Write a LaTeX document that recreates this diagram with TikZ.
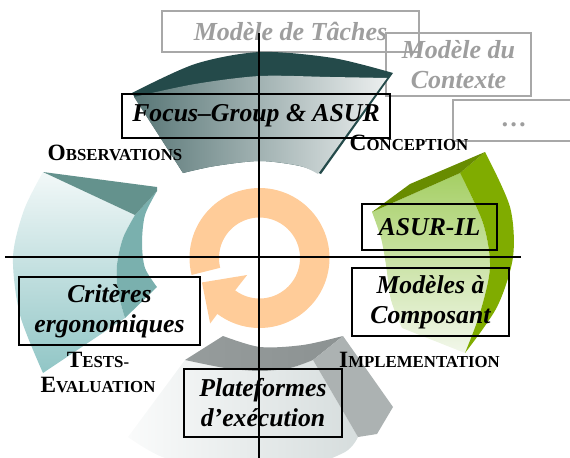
\documentclass[tikz,border=0pt]{standalone}
\usepackage{fontspec}
\setmainfont{Liberation Serif}
\usetikzlibrary{calc}

% palette
\definecolor{tealdark}{RGB}{36,74,74}
\definecolor{tealcap}{RGB}{100,146,141}
\definecolor{tealside}{RGB}{122,176,174}
\definecolor{tealfaceT}{RGB}{242,248,248}
\definecolor{tealfaceB}{RGB}{145,198,198}
\definecolor{slateL}{RGB}{88,118,118}
\definecolor{slateR}{RGB}{236,239,239}
\definecolor{greycap}{RGB}{172,178,178}
\definecolor{greysideL}{RGB}{150,156,156}
\definecolor{greysideM}{RGB}{112,118,118}
\definecolor{greysideR}{RGB}{140,146,146}
\definecolor{greyfaceL}{RGB}{250,251,251}
\definecolor{greyfaceR}{RGB}{214,221,221}
\definecolor{olivecap}{RGB}{104,140,0}
\definecolor{oliveside}{RGB}{128,172,0}
\definecolor{greenfaceT}{RGB}{165,207,100}
\definecolor{greenfaceB}{RGB}{242,247,235}
\definecolor{ringorange}{RGB}{255,204,153}
\definecolor{modelgrey}{RGB}{158,158,158}
\definecolor{modelframe}{RGB}{168,168,168}

% small-caps imitation: large initial, reduced capitals
\newcommand\phasecaps[2]{{\fontsize{17.5}{18.75}\selectfont#1\fontsize{12.6}{18.75}\selectfont#2}}

\begin{document}
\begin{tikzpicture}[x=0.75pt,y=-0.75pt,
  boxsize/.style 2 args={minimum width={#1*0.75pt}, minimum height={#2*0.75pt}},
  stagebox/.style={draw=black, line width=1.3pt, inner sep=0pt, align=center,
     font=\fontsize{19.3}{22.5}\selectfont\bfseries\itshape},
  modelbox/.style={draw=modelframe, line width=1.2pt, inner sep=0pt, align=center,
     text=modelgrey, font=\fontsize{19.5}{22.5}\selectfont\bfseries\itshape},
  phase/.style={inner sep=0pt, align=center,
     font=\fontsize{17.5}{18.75}\selectfont\bfseries},
  axis/.style={line width=1.1pt, black}]

\useasboundingbox (0,0) rectangle (570,457);
\clip (0,0) rectangle (570,457);

% ---- model frames (grey) ----
\node[modelbox, boxsize={257}{41}] (taches) at (290.5,31.5) {Modèle de Tâches};
\node[modelbox, boxsize={145}{63}] (contexte) at (458.5,64.5) {Modèle du\\Contexte};
\node[modelbox, boxsize={123}{41}] (autres) at (514.5,120.5) {\vphantom{x}…};

% ---- top segment (conception) ----
\fill[tealdark] plot[smooth] coordinates {(132,93) (195,64) (260,52) (333,58) (393,73)}
  -- (321,174) -- plot[smooth] coordinates {(321,174) (300,166) (260,161) (215,166) (183,173)} -- cycle;
\shade[left color=slateL, right color=slateR]
  plot[smooth] coordinates {(134,97) (195,84) (260,76) (330,77) (387,78)}
  -- (318,174) -- plot[smooth] coordinates {(318,174) (300,166) (260,161) (215,166) (183,173)} -- cycle;

% ---- left segment (tests / evaluation) ----
\shade[top color=tealfaceT, bottom color=tealfaceB]
  plot[smooth] coordinates {(43,172) (24,210) (13,257) (20,315) (43,373)}
  -- (125,318) -- plot[smooth] coordinates {(125,318) (118,292) (117,265) (123,238) (135,215)} -- cycle;
\fill[tealside]
  plot[smooth] coordinates {(135,215) (123,238) (117,265) (118,292) (125,318)}
  -- (157,287) -- plot[smooth] coordinates {(157,287) (145,268) (142,243) (145,215) (157,191)} -- cycle;
\fill[tealcap] (43,172) -- (157,187) -- (157,191) -- (135,215) -- cycle;

% ---- bottom segment (platforms) ----
\shade[left color=greyfaceL, right color=greyfaceR]
  plot[smooth] coordinates {(185,360) (225,368) (260,371) (290,368) (313,360)}
  -- (358,437) -- plot[smooth] coordinates {(358,437) (345,452) (300,468) (230,470) (165,458) (128,437)} -- cycle;
\shade[left color=greysideL, middle color=greysideM, right color=greysideR]
  plot[smooth] coordinates {(185,360) (225,368) (260,371) (290,368) (313,360)}
  -- (343,336) -- plot[smooth] coordinates {(343,336) (303,345) (260,347) (223,336)} -- cycle;
\fill[greycap] (343,336) -- (393,407) -- (377,434) -- (358,437) -- (313,360) -- cycle;

% ---- right segment (implementation) ----
\shade[top color=greenfaceT, bottom color=greenfaceB]
  (372,212) -- (460,173) -- plot[smooth] coordinates {(460,173) (483,223) (490,267) (480,313) (465,353)}
  -- (402,328) -- plot[smooth] coordinates {(402,328) (391,300) (386,265) (381,238) (372,212)} -- cycle;
\fill[oliveside]
  plot[smooth] coordinates {(485,152) (510,207) (513,257) (497,307) (465,353)}
  -- plot[smooth] coordinates {(465,353) (480,313) (490,267) (483,223) (460,173)} -- cycle;
\fill[olivecap] (372,212) -- (410,184) -- (485,152) -- (460,173) -- cycle;

% ---- central cycle arrow ----
\coordinate (rc) at (259.5,258);
\fill[ringorange]
  plot[domain=166:487, samples=90] ({259.5+70*cos(\x)},{258+70*sin(\x)})
  -- ($(rc)+(487:82)$) -- ($(rc)+(517:62.5)$) -- ($(rc)+(486:21)$)
  -- plot[domain=487:166, samples=90] ({259.5+40.5*cos(\x)},{258+40.5*sin(\x)}) -- cycle;

% ---- axes ----
\coordinate (axW) at (5,257);
\coordinate (axE) at (521,257);
\coordinate (axN) at (259,33);
\coordinate (axS) at (259,462);
\draw[axis] (axW) -- (axE);
\draw[axis] (axN) -- (axS);

% ---- stage frames ----
\node[stagebox, boxsize={268}{44}] (focus) at (256,116) {Focus–Group \& ASUR};
\node[stagebox, boxsize={135}{46}] (asuril) at (429.5,227) {ASUR-IL};
\node[stagebox, boxsize={157}{68}] (modeles) at (430.5,302) {Modèles à\\Composant};
\node[stagebox, boxsize={181}{68}] (criteres) at (109.5,311) {Critères\\ergonomiques};
\node[stagebox, boxsize={158}{68}] (plateformes) at (263,403) {Plateformes\\d’exécution};

% ---- phase names ----
\node[phase] (observations) at (115,153) {\phasecaps{O}{BSERVATIONS}};
\node[phase] (conception) at (409,142.5) {\phasecaps{C}{ONCEPTION}};
\node[phase] (implementation) at (419.5,359.5) {\phasecaps{I}{MPLEMENTATION}};
\node[phase] (tests) at (98,372.5) {\phasecaps{T}{ESTS-}\\\phasecaps{E}{VALUATION}};

\end{tikzpicture}
\end{document}
